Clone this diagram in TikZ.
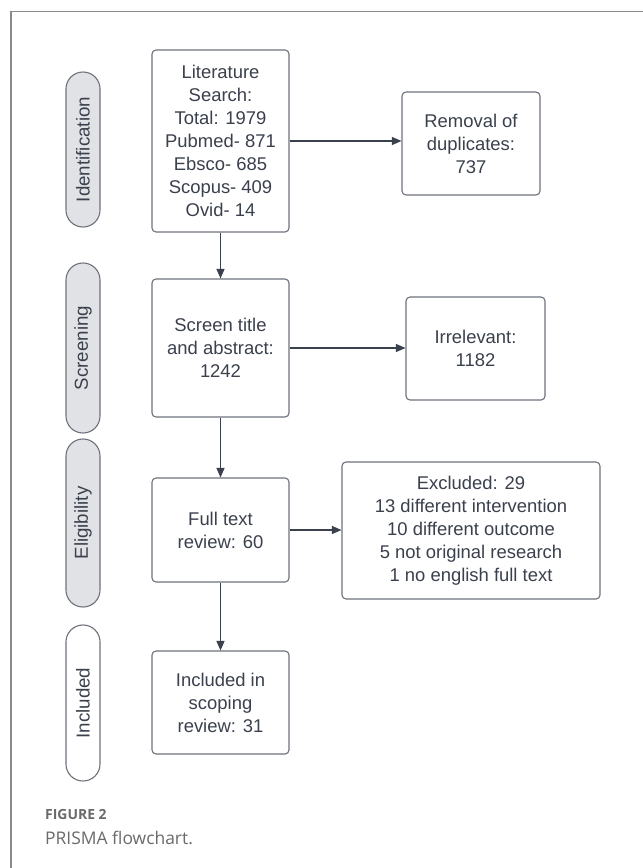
\documentclass[tikz,border=0pt]{standalone}
\usepackage{fontspec}
\setmainfont{Liberation Sans}
\newfontfamily\capfont{Open Sans}
\usetikzlibrary{arrows.meta}
\definecolor{txt}{HTML}{3A404C}
\definecolor{edge}{HTML}{6E727B}
\definecolor{pillfill}{HTML}{E1E2E6}
\definecolor{framec}{HTML}{8A8A8A}
\definecolor{capc}{HTML}{6A6A6A}
\tikzset{
  box/.style={draw=edge, line width=1.1bp, rounded corners=4bp, fill=white, text=txt,
    align=center, inner sep=0pt, font=\fontsize{18.5}{23}\selectfont},
  pill/.style={draw=edge, line width=1.1bp, rounded corners=16.9bp, text=txt,
    inner sep=0pt, minimum width=34bp, font=\fontsize{18.5}{22}\selectfont},
  pilltext/.style={rotate=90, text=txt, font=\fontsize{18.8}{22}\selectfont},
  arr/.style={draw=txt, line width=1.1bp, -{Triangle[length=9.5bp,width=8bp]}},
}
\begin{document}
\begin{tikzpicture}[x=1bp,y=-1bp]
\useasboundingbox (0,0) rectangle (643,868);
\fill[white] (0,0) rectangle (643,868);
\draw[framec, line width=1.1bp] (643,11.5) -- (11,11.5) -- (11,868);

% stage pills
\node[pill, fill=pillfill, minimum height=155bp] (pid) at (83,149.5) {};
\node[pilltext] (tid) at (pid.center) {Identification};
\node[pill, fill=pillfill, minimum height=170bp] (psc) at (83,348) {};
\node[pilltext] (tsc) at (psc.center) {Screening};
\node[pill, fill=pillfill, minimum height=168bp] (pel) at (83,523) {};
\node[pilltext] (tel) at (pel.center) {Eligibility};
\node[pill, fill=white, minimum height=156bp] (pin) at (83,703) {};
\node[pilltext] (tin) at (pin.center) {Included};

% main boxes
\node[box, minimum width=137bp, minimum height=182bp] (lit) at (220.5,141)
  {Literature\\Search:\\Total: 1979\\Pubmed- 871\\Ebsco- 685\\Scopus- 409\\Ovid- 14};
\node[box, minimum width=138bp, minimum height=103bp] (rem) at (471,143.5)
  {Removal of\\duplicates:\\737};
\node[box, minimum width=137bp, minimum height=138bp] (scr) at (220.5,348)
  {Screen title\\and abstract:\\1242};
\node[box, minimum width=139bp, minimum height=103bp] (irr) at (475.5,348.5)
  {Irrelevant:\\1182};
\node[box, minimum width=137bp, minimum height=104bp] (full) at (220.5,530)
  {Full text\\review: 60};
\node[box, minimum width=258bp, minimum height=137bp] (exc) at (471,530.5)
  {Excluded: 29\\13 different intervention\\10 different outcome\\5 not original research\\1 no english full text};
\node[box, minimum width=137bp, minimum height=103bp] (inc) at (220.5,702.5)
  {Included in\\scoping\\review: 31};

% connectors
\draw[arr] (lit.east) -- (lit.east -| rem.west);
\draw[arr] (lit.south) -- (scr.north);
\draw[arr] (scr.east) -- (scr.east -| irr.west);
\draw[arr] (scr.south) -- (full.north);
\draw[arr] (full.east) -- (full.east -| exc.west);
\draw[arr] (full.south) -- (inc.north);

% caption
\node[anchor=west, inner sep=0pt, text=capc, font=\capfont\bfseries\fontsize{14}{16}\selectfont] (fig) at (45,815) {FIGURE 2};
\node[anchor=west, inner sep=0pt, text=capc, font=\capfont\fontsize{17.5}{20}\selectfont] (cap) at (45,838) {PRISMA flowchart.};
\end{tikzpicture}
\end{document}
